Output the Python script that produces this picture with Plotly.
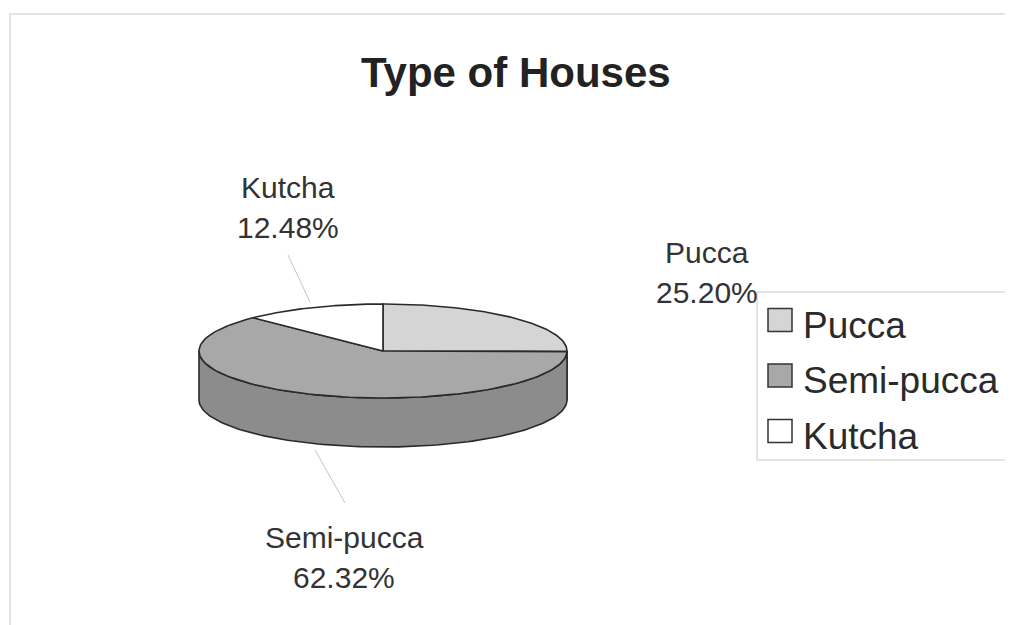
import numpy as np
import plotly.graph_objects as go

# ---- data ----
categories = ["Pucca", "Semi-pucca", "Kutcha"]
shares = [25.20, 62.32, 12.48]
top_colors = ["#d5d5d5", "#a8a8a8", "#ffffff"]
side_colors = ["#b4b4b4", "#8c8c8c", "#e6e6e6"]
title_text = "Type of Houses"

# ---- layout geometry (pixel space of the page) ----
W, H = 1013, 625
OFF = 8  # default page body margin
CX, CY, RX, RY, DEPTH = 383, 351, 184, 47, 49
FONT = "Arial, Liberation Sans, sans-serif"


def arc(a0, a1, dy=0.0, n=120):
    t = np.radians(np.linspace(a0, a1, n))
    return CX + RX * np.sin(t), CY - RY * np.cos(t) + dy


fig = go.Figure()

total = sum(shares)
bounds = []
acc = 0.0
for v in shares:
    a0 = acc / total * 360.0
    acc += v
    a1 = acc / total * 360.0
    bounds.append((a0, a1))

# sides (visible front half: 90..270 deg clockwise from top)
for (a0, a1), name, col in zip(bounds, categories, side_colors):
    s0, s1 = max(a0, 90.0), min(a1, 270.0)
    if s1 > s0:
        xt, yt = arc(s0, s1)
        xb, yb = arc(s1, s0, DEPTH)
        xs = np.concatenate([xt, xb, xt[:1]])
        ys = np.concatenate([yt, yb, yt[:1]])
        fig.add_trace(go.Scatter(x=xs, y=ys, mode="lines", fill="toself",
                                 fillcolor=col, line=dict(color="#2a2a2a", width=1.6),
                                 name=name, hoverinfo="skip", showlegend=False))

# top sectors
for (a0, a1), name, col, v in zip(bounds, categories, top_colors, shares):
    xa, ya = arc(a0, a1)
    xs = np.concatenate([[CX], xa, [CX]])
    ys = np.concatenate([[CY], ya, [CY]])
    fig.add_trace(go.Scatter(x=xs, y=ys, mode="lines", fill="toself",
                             fillcolor=col, line=dict(color="#2a2a2a", width=1.6),
                             name=name, text=f"{name}: {v:.2f}%", hoverinfo="text",
                             showlegend=False))

shapes = []
annotations = []

# chart-area border (faint)
shapes.append(dict(type="rect", xref="x", yref="y", x0=10, y0=14, x1=W + 20, y1=H + 20,
                   line=dict(color="#dadada", width=1.5), fillcolor="rgba(0,0,0,0)", layer="below"))

# title
annotations.append(dict(x=516, y=72, xref="x", yref="y", text=f"<b>{title_text}</b>",
                        showarrow=False, font=dict(family=FONT, size=42, color="#222222"),
                        xanchor="center", yanchor="middle"))

# data labels
label_pos = {"Pucca": (707, 252), "Semi-pucca": (344, 537), "Kutcha": (288, 187)}
for name, v in zip(categories, shares):
    lx, ly = label_pos[name]
    annotations.append(dict(x=lx, y=ly, xref="x", yref="y", text=name, showarrow=False,
                            font=dict(family=FONT, size=30, color="#333333"),
                            xanchor="center", yanchor="middle"))
    annotations.append(dict(x=lx, y=ly + 40, xref="x", yref="y", text=f"{v:.2f}%",
                            showarrow=False, font=dict(family=FONT, size=30, color="#333333"),
                            xanchor="center", yanchor="middle"))

# leader lines
shapes.append(dict(type="line", xref="x", yref="y", x0=288, y0=255, x1=310, y1=302,
                   line=dict(color="#c4c4c4", width=1)))
shapes.append(dict(type="line", xref="x", yref="y", x0=315, y0=450, x1=345, y1=503,
                   line=dict(color="#c4c4c4", width=1)))

# legend
shapes.append(dict(type="rect", xref="x", yref="y", x0=757, y0=292, x1=W + 20, y1=460,
                   line=dict(color="#c8c8c8", width=1), fillcolor="white"))
for i, (name, col) in enumerate(zip(categories, top_colors)):
    yc = 320 + i * 55.5
    shapes.append(dict(type="rect", xref="x", yref="y", x0=768, x1=792, y0=yc - 11.5, y1=yc + 11.5,
                       line=dict(color="#333333", width=1.5), fillcolor=col))
    annotations.append(dict(x=801, y=yc + 5, xref="x", yref="y", text=name, showarrow=False,
                            font=dict(family=FONT, size=37, color="#2a2a2a"),
                            xanchor="left", yanchor="middle"))

fig.update_layout(
    width=W - OFF, height=H - OFF, autosize=False,
    margin=dict(l=0, r=0, t=0, b=0),
    paper_bgcolor="white", plot_bgcolor="white",
    showlegend=False,
    xaxis=dict(range=[OFF, W], visible=False, fixedrange=True),
    yaxis=dict(range=[H, OFF], visible=False, fixedrange=True),
    shapes=shapes, annotations=annotations,
)

fig.write_html("out.html", config={"displayModeBar": False})
